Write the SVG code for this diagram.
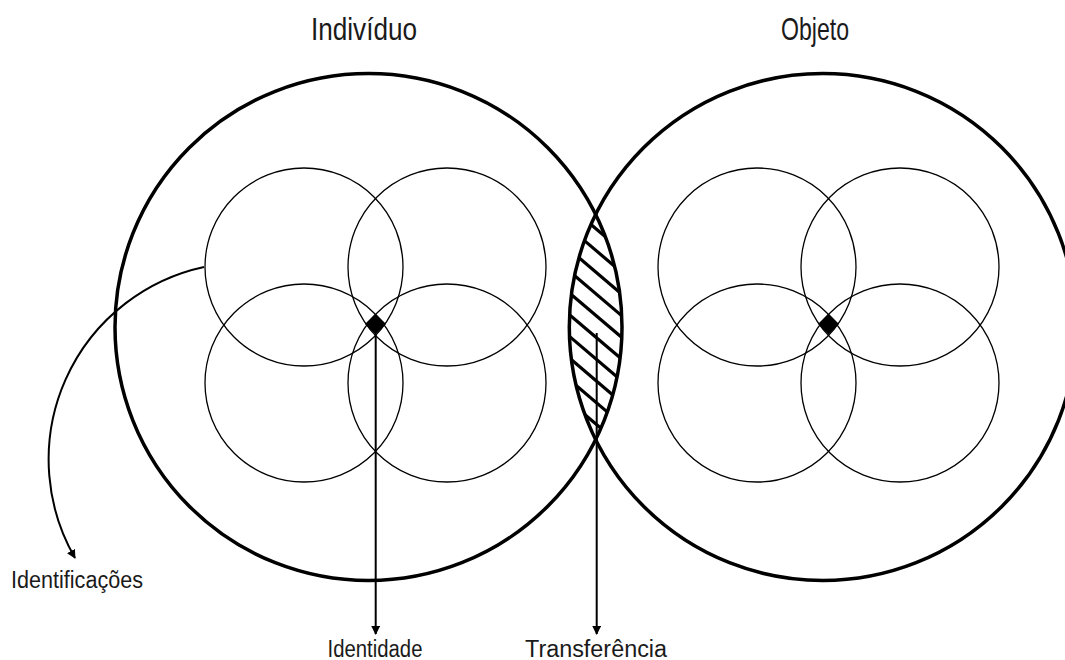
<svg xmlns="http://www.w3.org/2000/svg" width="1065" height="660" viewBox="0 0 1065 660">
<style>
.big{fill:none;stroke:#000;stroke-width:3.5}
.small{fill:none;stroke:#000;stroke-width:1.3}
.conn{fill:none;stroke:#000;stroke-width:2}
.hatch{stroke:#000;stroke-width:3.2}
.lbl{font-family:"Liberation Sans",Arial,sans-serif;fill:#1a1a1a}
.title{font-size:32px}
.small-lbl{font-size:23px}
</style>
<defs>
<marker id="arr" viewBox="0 0 10 10" refX="9" refY="5" markerWidth="9" markerHeight="9" markerUnits="userSpaceOnUse" orient="auto">
<path d="M0,0 L10,5 L0,10 Z" fill="#000"/>
</marker>
<clipPath id="lensClip">
<path d="M595.65,214.5 A253.5,253.5 0 0 1 595.65,439.5 A253.5,253.5 0 0 1 595.65,214.5 Z"/>
</clipPath>
</defs>
<rect width="1065" height="660" fill="#fff"/>

<g id="individuo">
<circle class="big" cx="368.5" cy="327" r="253.5"/>
<circle class="small" cx="304" cy="267" r="99"/>
<circle class="small" cx="447" cy="267" r="99"/>
<circle class="small" cx="304" cy="383" r="99"/>
<circle class="small" cx="447" cy="383" r="99"/>
<path d="M375.5,313.5 L386,324 L375.5,334.5 L365,324 Z" fill="#000"/>
<text class="lbl title" x="364" y="40" text-anchor="middle" textLength="106" lengthAdjust="spacingAndGlyphs">Indivíduo</text>
</g>

<g id="objeto">
<circle class="big" cx="822.8" cy="327" r="253.5"/>
<circle class="small" cx="757" cy="267" r="99"/>
<circle class="small" cx="900" cy="267" r="99"/>
<circle class="small" cx="757" cy="383" r="99"/>
<circle class="small" cx="900" cy="383" r="99"/>
<path d="M828.5,313.5 L839,324 L828.5,334.5 L818,324 Z" fill="#000"/>
<text class="lbl title" x="815" y="40" text-anchor="middle" textLength="68" lengthAdjust="spacingAndGlyphs">Objeto</text>
</g>

<g id="lens">
<g clip-path="url(#lensClip)">
<line class="hatch" x1="555" y1="172.2" x2="640" y2="244.5"/>
<line class="hatch" x1="555" y1="193.9" x2="640" y2="266.2"/>
<line class="hatch" x1="555" y1="215.6" x2="640" y2="287.9"/>
<line class="hatch" x1="555" y1="237.3" x2="640" y2="309.6"/>
<line class="hatch" x1="555" y1="259" x2="640" y2="331.3"/>
<line class="hatch" x1="555" y1="280.7" x2="640" y2="353"/>
<line class="hatch" x1="555" y1="302.4" x2="640" y2="374.7"/>
<line class="hatch" x1="555" y1="324.1" x2="640" y2="396.4"/>
<line class="hatch" x1="555" y1="345.8" x2="640" y2="418.1"/>
<line class="hatch" x1="555" y1="367.5" x2="640" y2="439.8"/>
<line class="hatch" x1="555" y1="389.2" x2="640" y2="461.5"/>
<line class="hatch" x1="555" y1="410.9" x2="640" y2="483.2"/>
</g>
</g>

<g id="connectors">
<line class="conn" x1="375.7" y1="334" x2="375.7" y2="634" marker-end="url(#arr)"/>
<line class="conn" x1="596.7" y1="333" x2="596.7" y2="634" marker-end="url(#arr)"/>
<path class="conn" d="M204,267 A197,197 0 0 0 75,558" marker-end="url(#arr)"/>
</g>

<g id="labels">
<text class="lbl small-lbl" x="11" y="588" textLength="132" lengthAdjust="spacingAndGlyphs">Identificações</text>
<text class="lbl small-lbl" x="375" y="657" text-anchor="middle" textLength="95" lengthAdjust="spacingAndGlyphs">Identidade</text>
<text class="lbl small-lbl" x="596" y="657" text-anchor="middle" textLength="142" lengthAdjust="spacingAndGlyphs">Transferência</text>
</g>
</svg>
